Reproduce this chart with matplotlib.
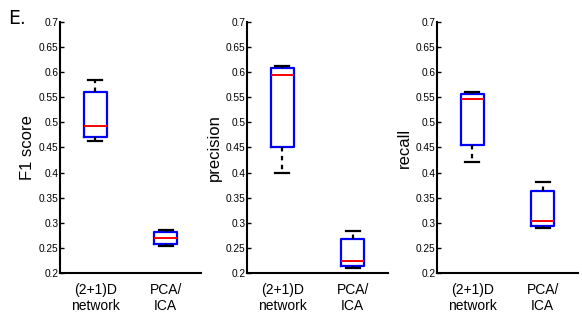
import matplotlib.pyplot as plt

groups = ['(2+1)D\nnetwork', 'PCA/\nICA']
metrics = ['F1 score', 'precision', 'recall']

# per metric, per group: whisker low, q1, median, q3, whisker high
f1_net = [0.462, 0.470, 0.493, 0.561, 0.584]
f1_pca = [0.254, 0.258, 0.269, 0.281, 0.286]
prec_net = [0.400, 0.450, 0.594, 0.608, 0.612]
prec_pca = [0.209, 0.213, 0.224, 0.268, 0.284]
rec_net = [0.422, 0.454, 0.547, 0.557, 0.561]
rec_pca = [0.289, 0.294, 0.304, 0.363, 0.381]

data = [[f1_net, f1_pca], [prec_net, prec_pca], [rec_net, rec_pca]]

yticks = [0.2, 0.25, 0.3, 0.35, 0.4, 0.45, 0.5, 0.55, 0.6, 0.65, 0.7]
ytick_labels = ['0.2', '0.25', '0.3', '0.35', '0.4', '0.45', '0.5', '0.55', '0.6', '0.65', '0.7']

plt.rcParams['font.family'] = ['Liberation Sans', 'DejaVu Sans']

fig = plt.figure(figsize=(5.82, 3.18), dpi=100)
lefts = [60, 247, 437]
W, H = 582, 318

for i in range(3):
    ax = fig.add_axes([lefts[i] / W, 1 - 273 / H, 141 / W, 251 / H])
    stats = []
    for d in data[i]:
        stats.append({'whislo': d[0], 'q1': d[1], 'med': d[2], 'q3': d[3], 'whishi': d[4]})
    ax.bxp(stats, positions=[1, 2], widths=0.33, showfliers=False,
           boxprops=dict(color='#0000ff', linewidth=1.6),
           medianprops=dict(color='#ff0000', linewidth=1.4),
           whiskerprops=dict(color='black', linewidth=1.6, linestyle=(0, (2, 2))),
           capprops=dict(color='black', linewidth=1.6),
           capwidths=0.2)
    ax.set_xlim(0.5, 2.5)
    ax.set_ylim(0.2, 0.7)
    ax.set_yticks(yticks)
    ax.set_yticklabels(ytick_labels)
    ax.set_xticks([1, 2])
    ax.set_xticklabels(groups, fontsize=10, linespacing=1.2)
    ax.tick_params(axis='y', direction='in', length=3, width=1, labelsize=7.3, pad=1)
    ax.tick_params(axis='x', length=0, pad=7)
    ax.spines['top'].set_visible(False)
    ax.spines['right'].set_visible(False)
    ax.spines['left'].set_linewidth(1.5)
    ax.spines['bottom'].set_linewidth(1.5)
    ax.set_ylabel(metrics[i], fontsize=12, labelpad=3)

fig.text(8 / W, 1 - 18 / H, 'E.', fontsize=13.5, family='DejaVu Sans', va='center')

plt.savefig('out.png', dpi=100)
